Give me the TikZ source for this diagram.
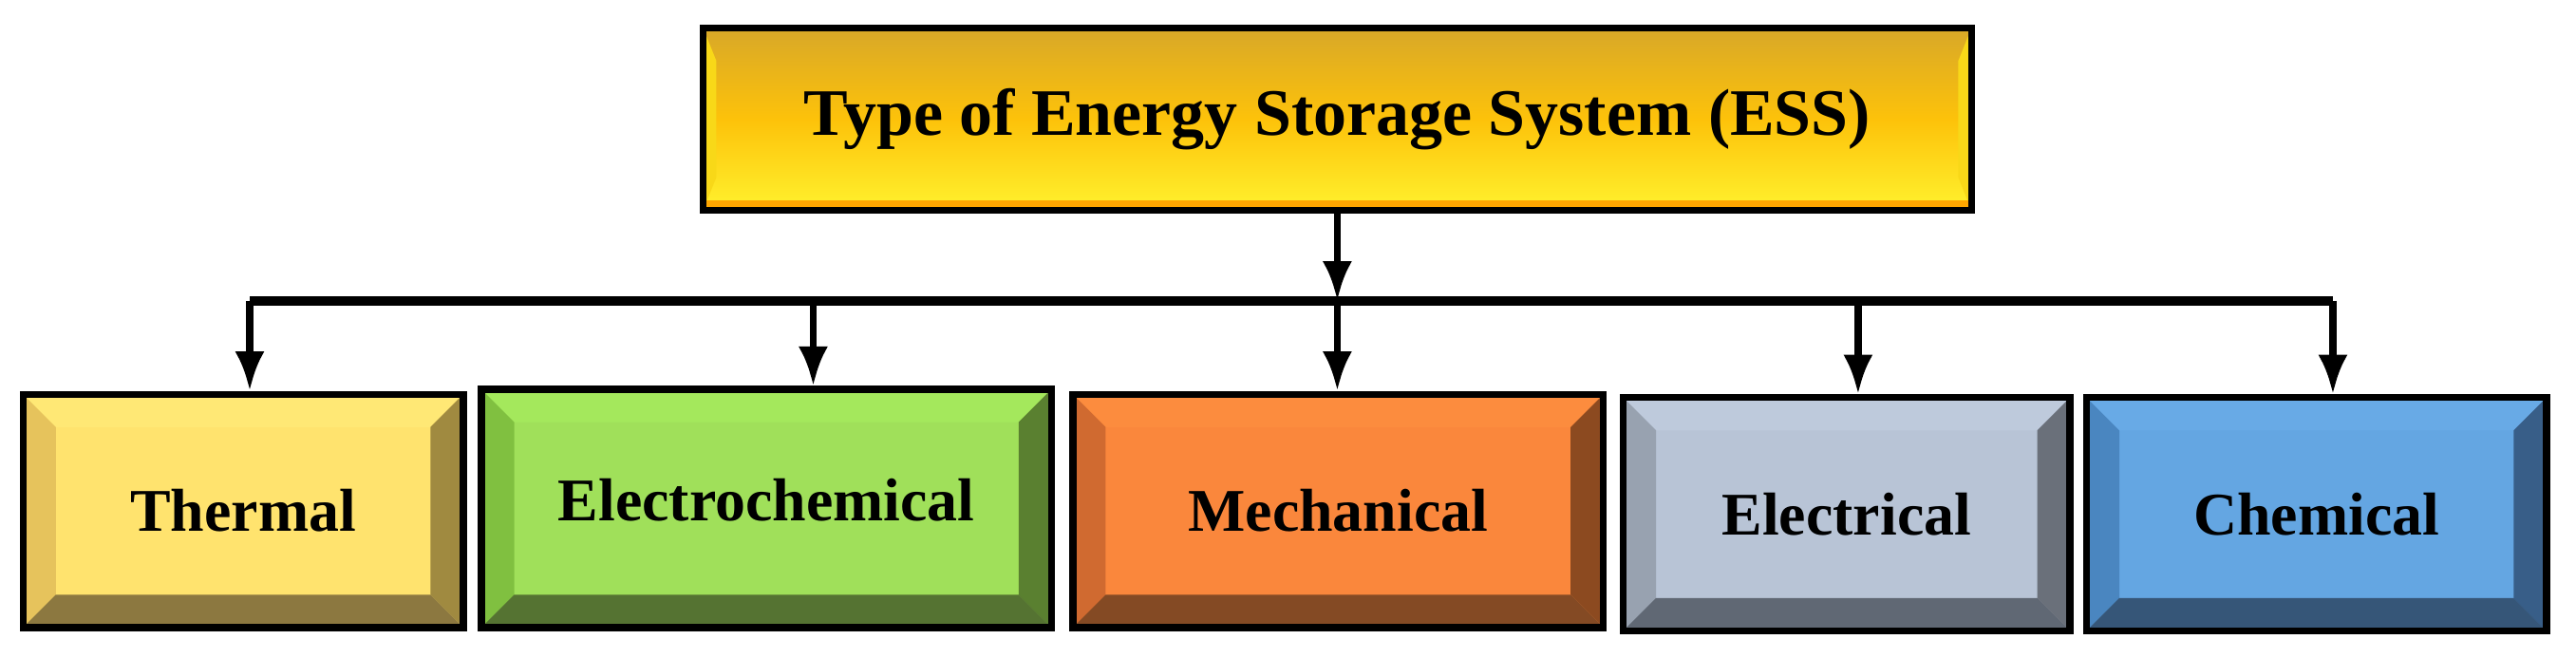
\documentclass[tikz,border=0pt]{standalone}
\usepackage{fontspec}
\setmainfont{Liberation Serif}
\usetikzlibrary{calc,arrows.meta}
\definecolor{ytop}{HTML}{D8A828}
\definecolor{ymid}{HTML}{FDC20A}
\definecolor{ybot}{HTML}{FFF22E}
\definecolor{yside}{HTML}{F8D818}
\definecolor{thF}{HTML}{FFE36E}\definecolor{thT}{HTML}{FFE875}\definecolor{thL}{HTML}{E6C35C}\definecolor{thR}{HTML}{A08A40}\definecolor{thB}{HTML}{8C7840}
\definecolor{ecF}{HTML}{A0E05A}\definecolor{ecT}{HTML}{A4E85C}\definecolor{ecL}{HTML}{80C040}\definecolor{ecR}{HTML}{5A8030}\definecolor{ecB}{HTML}{557332}
\definecolor{meF}{HTML}{FA873C}\definecolor{meT}{HTML}{FC8C3E}\definecolor{meL}{HTML}{D06A30}\definecolor{meR}{HTML}{8C4A20}\definecolor{meB}{HTML}{844A24}
\definecolor{elF}{HTML}{B8C4D6}\definecolor{elT}{HTML}{BECAdC}\definecolor{elL}{HTML}{98A2B0}\definecolor{elR}{HTML}{6A707A}\definecolor{elB}{HTML}{606874}
\definecolor{chF}{HTML}{64A6E2}\definecolor{chT}{HTML}{68AAE6}\definecolor{chL}{HTML}{4A86C0}\definecolor{chR}{HTML}{385E88}\definecolor{chB}{HTML}{365678}
\begin{document}
\begin{tikzpicture}
\useasboundingbox (0,0) rectangle (15.68,4.0);
\def\bw{0.2}
\tikzset{
  bev/.style n args={5}{fill=#1F, draw=black, line width=1.2pt, inner sep=0pt,
    font=\bfseries\fontsize{10.5}{12}\selectfont,
    path picture={
      \coordinate (nw) at (path picture bounding box.north west);
      \coordinate (ne) at (path picture bounding box.north east);
      \coordinate (sw) at (path picture bounding box.south west);
      \coordinate (se) at (path picture bounding box.south east);
      \fill[#1T] (nw) -- (ne) -- ($(ne)+(-\bw,-\bw)$) -- ($(nw)+(\bw,-\bw)$) -- cycle;
      \fill[#1L] (nw) -- (sw) -- ($(sw)+(\bw,\bw)$) -- ($(nw)+(\bw,-\bw)$) -- cycle;
      \fill[#1R] (ne) -- (se) -- ($(se)+(-\bw,\bw)$) -- ($(ne)+(-\bw,-\bw)$) -- cycle;
      \fill[#1B] (sw) -- (se) -- ($(se)+(-\bw,\bw)$) -- ($(sw)+(\bw,\bw)$) -- cycle;
    }, minimum width=#2, minimum height=#3},
  arr/.style={line width=1.2pt, -{Latex[length=2.4mm,width=1.8mm]}}
}
\node[draw=black, line width=1.2pt, minimum width=7.72cm, minimum height=1.11cm,
  top color=ytop, bottom color=ybot, middle color=ymid,
  font=\bfseries\fontsize{11.5}{13}\selectfont,
  path picture={
    \coordinate (nw) at (path picture bounding box.north west);
    \coordinate (ne) at (path picture bounding box.north east);
    \coordinate (sw) at (path picture bounding box.south west);
    \coordinate (se) at (path picture bounding box.south east);
    \fill[yside] (nw) -- ($(nw)+(0.08,-0.2)$) -- ($(sw)+(0.08,0.2)$) -- (sw) -- cycle;
    \fill[yside] (ne) -- ($(ne)+(-0.08,-0.2)$) -- ($(se)+(-0.08,0.2)$) -- (se) -- cycle;
    \fill[orange!70!yellow] (sw) -- (se) -- ($(se)+(0,0.06)$) -- ($(sw)+(0,0.06)$) -- cycle;
  }] (top) at (8.14,3.275) {Type of Energy Storage System (ESS)};

\node[bev={th}{2.68cm}{1.42cm}{}{}] (th) at (1.48,0.89) {Thermal};
\node[bev={ec}{3.47cm}{1.45cm}{}{}] (ec) at (4.665,0.905) {\raisebox{3pt}{Electrochemical}};
\node[bev={me}{3.23cm}{1.42cm}{}{}] (me) at (8.145,0.89) {Mechanical};
\node[bev={el}{2.72cm}{1.42cm}{}{}] (el) at (11.24,0.87) {Electrical};
\node[bev={ch}{2.80cm}{1.42cm}{}{}] (ch) at (14.10,0.87) {Chemical};

\coordinate (bar) at (8.14,2.17);
\coordinate (b1) at (1.52,2.17);
\coordinate (b2) at (4.95,2.17);
\coordinate (b3) at (8.14,2.17);
\coordinate (b4) at (11.31,2.17);
\coordinate (b5) at (14.20,2.17);
\draw[arr] (top.south) -- (bar);
\draw[line width=1.6pt] (b1) -- (b5);
\draw[arr] (b1) -- (b1 |- th.north);
\draw[arr] (b2) -- (b2 |- ec.north);
\draw[arr] (b3) -- (b3 |- me.north);
\draw[arr] (b4) -- (b4 |- el.north);
\draw[arr] (b5) -- (b5 |- ch.north);
\end{tikzpicture}
\end{document}
